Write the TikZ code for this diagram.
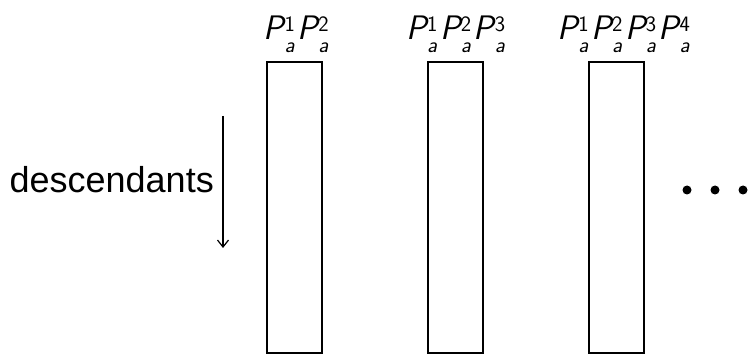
\documentclass[tikz,border=0pt]{standalone}
\usepackage{fontspec}
\newfontfamily\arialfont{Liberation Sans}
\usetikzlibrary{arrows.meta}
\newcommand{\scr}{\fontsize{22}{24}\selectfont}
\newcommand{\Pa}[1]{{\itshape P}\kern0.5pt\rlap{\raisebox{8.5pt}{\scr #1}}\raisebox{-13pt}{\scr\itshape a}\kern3pt}
\tikzset{
  col/.style={draw, line width=1.6pt, minimum width=55pt, minimum height=291pt, inner sep=0pt, anchor=north},
  lab/.style={anchor=base, inner sep=0pt, font=\sffamily\fontsize{34}{38}\selectfont},
  dot/.style={fill, circle, inner sep=0pt, minimum size=9pt}
}
\begin{document}
\begin{tikzpicture}[x=1pt,y=1pt]
\useasboundingbox (0,0) rectangle (748,354);
\node[col] (c1) at (294.5,293) {};
\node[col] (c2) at (455.5,293) {};
\node[col] (c3) at (616.5,293) {};
\node[lab] (l1) at (297.5,314) {\Pa{1}\Pa{2}};
\node[lab] (l2) at (457,314) {\Pa{1}\Pa{2}\Pa{3}};
\node[lab] (l3) at (625,314) {\Pa{1}\Pa{2}\Pa{3}\Pa{4}};
\coordinate (at) at (223,238);
\coordinate (ab) at (223,106);
\draw[line width=1.2pt, -{Straight Barb[length=7pt,width=11pt]}] (at) -- (ab);
\node[anchor=base east, inner sep=0pt, font=\arialfont\fontsize{36}{40}\selectfont] (d) at (214,161) {descendants};
\node[dot] (d1) at (687,164) {};
\node[dot] (d2) at (715,164) {};
\node[dot] (d3) at (743,164) {};
\end{tikzpicture}
\end{document}
